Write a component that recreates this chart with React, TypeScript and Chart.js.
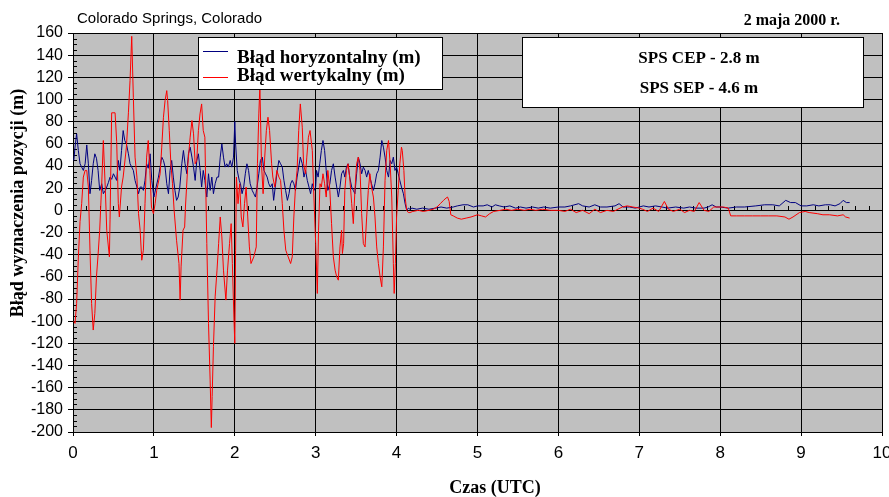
import { useEffect, useRef } from "react";
import { Chart, registerables } from "chart.js";

Chart.register(...registerables);

// [time (h UTC), error (m)]
const horizontalError: [number, number][] = [
  [0.01, 45], [0.025, 57], [0.045, 69], [0.066, 54], [0.087, 42], [0.107, 39], [0.128, 36], [0.15, 42],
  [0.17, 59], [0.19, 42], [0.21, 15], [0.23, 27], [0.25, 42], [0.27, 51], [0.29, 47], [0.31, 36],
  [0.33, 18], [0.355, 24], [0.375, 15], [0.4, 18], [0.417, 21], [0.437, 25], [0.458, 30], [0.478, 28],
  [0.5, 33], [0.52, 30], [0.54, 27], [0.56, 45], [0.58, 36], [0.6, 54], [0.62, 72], [0.64, 63],
  [0.66, 60], [0.685, 51], [0.705, 42], [0.726, 39], [0.746, 36], [0.767, 27], [0.79, 21], [0.81, 15],
  [0.83, 21], [0.85, 21], [0.87, 18], [0.89, 27], [0.91, 42], [0.93, 38], [0.953, 51], [0.974, 27],
  [1.0, 12], [1.027, 21], [1.056, 30], [1.077, 39], [1.097, 48], [1.118, 45], [1.138, 39], [1.159, 24],
  [1.18, 15], [1.2, 36], [1.22, 45], [1.24, 30], [1.26, 18], [1.28, 9], [1.3, 12], [1.32, 21],
  [1.345, 42], [1.365, 54], [1.385, 42], [1.407, 33], [1.427, 51], [1.448, 57], [1.47, 48], [1.49, 39],
  [1.51, 27], [1.53, 45], [1.55, 51], [1.572, 36], [1.59, 21], [1.61, 36], [1.63, 27], [1.654, 12],
  [1.675, 33], [1.695, 18], [1.716, 30], [1.736, 15], [1.757, 24], [1.78, 30], [1.8, 30], [1.82, 48],
  [1.84, 60], [1.86, 48], [1.88, 39], [1.9, 42], [1.92, 39], [1.943, 45], [1.963, 39], [1.984, 48],
  [2.0, 80], [2.01, 60], [2.03, 36], [2.055, 27], [2.07, 24], [2.09, 15], [2.11, 21], [2.13, 33],
  [2.15, 42], [2.17, 36], [2.19, 24], [2.215, 18], [2.235, 15], [2.255, 12], [2.275, 21], [2.297, 33],
  [2.317, 45], [2.34, 48], [2.36, 36], [2.38, 33], [2.4, 30], [2.42, 24], [2.44, 21], [2.463, 24],
  [2.48, 9], [2.5, 21], [2.525, 36], [2.545, 45], [2.566, 42], [2.587, 39], [2.607, 27], [2.628, 18],
  [2.65, 9], [2.67, 15], [2.69, 24], [2.71, 27], [2.73, 24], [2.75, 18], [2.77, 30], [2.79, 39],
  [2.81, 48], [2.834, 42], [2.855, 30], [2.875, 36], [2.896, 27], [2.917, 21], [2.937, 15], [2.958, 24],
  [2.98, 18], [3.0, 21], [3.01, 36], [3.03, 30], [3.05, 42], [3.07, 54], [3.09, 63], [3.11, 54],
  [3.13, 36], [3.15, 18], [3.175, 24], [3.196, 36], [3.218, 42], [3.24, 30], [3.26, 21], [3.28, 12],
  [3.3, 21], [3.32, 33], [3.342, 36], [3.36, 30], [3.38, 39], [3.4, 42], [3.42, 30], [3.445, 21],
  [3.465, 18], [3.485, 15], [3.506, 33], [3.527, 48], [3.548, 42], [3.568, 33], [3.589, 39], [3.61, 36],
  [3.63, 30], [3.65, 36], [3.67, 30], [3.69, 24], [3.713, 18], [3.733, 24], [3.754, 33], [3.775, 36],
  [3.796, 48], [3.817, 63], [3.837, 57], [3.857, 48], [3.878, 36], [3.9, 30], [3.92, 45], [3.94, 42],
  [3.96, 48], [3.98, 36], [4.0, 39], [4.02, 33], [4.04, 27], [4.06, 21], [4.084, 15], [4.105, 6],
  [4.125, 0], [4.145, 2], [4.165, 1], [4.19, 2], [4.25, 1], [4.32, 2], [4.4, 1], [4.48, 2],
  [4.55, 3], [4.62, 2], [4.7, 3], [4.75, 4], [4.82, 5], [4.88, 5], [4.95, 3], [5.0, 4],
  [5.07, 4], [5.12, 5], [5.18, 3], [5.22, 5], [5.27, 4], [5.33, 3], [5.4, 4], [5.47, 2],
  [5.53, 3], [5.6, 2], [5.68, 3], [5.75, 2], [5.82, 3], [5.9, 2], [6.0, 3], [6.08, 3],
  [6.15, 4], [6.25, 6], [6.3, 4], [6.38, 3], [6.45, 5], [6.52, 3], [6.6, 3], [6.7, 4],
  [6.75, 6], [6.8, 3], [6.88, 3], [6.95, 2], [7.0, 3], [7.05, 4], [7.12, 3], [7.2, 4],
  [7.28, 3], [7.35, 2], [7.45, 3], [7.55, 2], [7.62, 3], [7.7, 2], [7.8, 2], [7.85, 3],
  [7.9, 5], [7.95, 3], [8.0, 3], [8.1, 2], [8.2, 3], [8.3, 3], [8.44, 4], [8.55, 5],
  [8.65, 5], [8.73, 4], [8.81, 9], [8.87, 7], [8.93, 7], [9.0, 4], [9.07, 4], [9.15, 5],
  [9.22, 4], [9.3, 5], [9.36, 5], [9.42, 4], [9.48, 6], [9.52, 9], [9.56, 7], [9.6, 7],
];

const verticalError: [number, number][] = [
  [0.01, -100], [0.025, -102], [0.045, -84], [0.066, -43], [0.087, -10], [0.107, 6], [0.128, 30], [0.15, 36],
  [0.17, 36], [0.19, 21], [0.21, -36], [0.23, -84], [0.25, -108], [0.27, -93], [0.29, -60], [0.31, -40],
  [0.33, -18], [0.355, 24], [0.375, 63], [0.4, 18], [0.417, -18], [0.45, -42], [0.458, -8], [0.478, 88],
  [0.52, 88], [0.54, 62], [0.56, 6], [0.573, -6], [0.6, 21], [0.62, 30], [0.66, 57], [0.685, 88],
  [0.705, 117], [0.726, 157], [0.746, 102], [0.767, 48], [0.79, 30], [0.81, -3], [0.83, -18], [0.85, -45],
  [0.87, -36], [0.89, 6], [0.91, 48], [0.93, 63], [0.95, 36], [0.97, 3], [0.994, -3], [1.015, 6],
  [1.035, 18], [1.077, 33], [1.097, 57], [1.118, 84], [1.138, 99], [1.159, 108], [1.17, 99], [1.19, 72],
  [1.21, 42], [1.23, 24], [1.25, 0], [1.28, -27], [1.31, -48], [1.324, -81], [1.336, -51], [1.36, -18],
  [1.38, -15], [1.39, 3], [1.42, 42], [1.448, 66], [1.47, 81], [1.49, 69], [1.51, 42], [1.53, 45],
  [1.55, 72], [1.57, 87], [1.59, 96], [1.61, 72], [1.63, 66], [1.654, -30], [1.675, -102], [1.695, -153],
  [1.71, -196], [1.72, -168], [1.736, -123], [1.757, -78], [1.78, -54], [1.8, -30], [1.82, -6], [1.84, -24],
  [1.86, -54], [1.89, -81], [1.91, -54], [1.935, -30], [1.955, -12], [1.97, -48], [1.99, -99], [2.0, -120],
  [2.01, -36], [2.02, 30], [2.04, 6], [2.06, 24], [2.08, -6], [2.1, -15], [2.12, 6], [2.14, 21],
  [2.16, -6], [2.18, -33], [2.2, -48], [2.235, -42], [2.265, -33], [2.28, 42], [2.297, 87], [2.31, 112],
  [2.33, 42], [2.35, 15], [2.37, 48], [2.39, 72], [2.41, 84], [2.43, 72], [2.455, 42], [2.47, 30],
  [2.495, 21], [2.52, 36], [2.545, 30], [2.566, 27], [2.587, 6], [2.607, -18], [2.63, -36], [2.66, -42],
  [2.69, -48], [2.71, -42], [2.73, -6], [2.75, 21], [2.77, 36], [2.79, 72], [2.81, 96], [2.834, 75],
  [2.85, 42], [2.875, 33], [2.89, 48], [2.91, 66], [2.93, 72], [2.958, 54], [2.978, 12], [3.0, -30],
  [3.02, -75], [3.035, -18], [3.053, 24], [3.07, 21], [3.09, 33], [3.11, 24], [3.13, 12], [3.15, 36],
  [3.175, 18], [3.196, -12], [3.218, -42], [3.24, -54], [3.26, -60], [3.28, -63], [3.3, -33], [3.32, -18],
  [3.33, -39], [3.345, -30], [3.36, 18], [3.38, 36], [3.4, 42], [3.42, 30], [3.445, 6], [3.465, -12],
  [3.485, 18], [3.506, 42], [3.527, 48], [3.548, 36], [3.568, -3], [3.589, -30], [3.61, -33], [3.63, -6],
  [3.65, 18], [3.67, 33], [3.69, 21], [3.713, 12], [3.733, -6], [3.754, -33], [3.775, -48], [3.796, -60],
  [3.817, -69], [3.837, -33], [3.857, 27], [3.878, 54], [3.9, 63], [3.92, 42], [3.94, 12], [3.96, -48],
  [3.97, -75], [3.985, -48], [4.0, -6], [4.02, 18], [4.04, 42], [4.06, 57], [4.07, 54], [4.09, 36],
  [4.105, 12], [4.125, 0], [4.145, -2], [4.165, -2], [4.2, -1], [4.27, 0], [4.33, -1], [4.4, 0],
  [4.45, 1], [4.5, 3], [4.54, 6], [4.58, 9], [4.61, 11], [4.63, 12], [4.65, 8], [4.67, -4],
  [4.7, -5], [4.75, -7], [4.8, -8], [4.86, -7], [4.92, -6], [5.0, -4], [5.05, -5], [5.1, -6],
  [5.15, -3], [5.2, -1], [5.28, 0], [5.35, 1], [5.42, 0], [5.5, 1], [5.58, 0], [5.65, 1],
  [5.72, 0], [5.8, 1], [5.9, 0], [6.0, 0], [6.08, -1], [6.15, 1], [6.22, -2], [6.3, 0],
  [6.38, -3], [6.45, 1], [6.52, -2], [6.6, 0], [6.68, -1], [6.79, 3], [6.85, 4], [6.92, 3],
  [7.0, 2], [7.04, 1], [7.1, -1], [7.17, 2], [7.24, -1], [7.31, 8], [7.36, 1], [7.42, -1],
  [7.5, 1], [7.56, -2], [7.62, 0], [7.68, -1], [7.74, 7], [7.8, 0], [7.86, -1], [7.92, 3],
  [7.97, 3], [8.04, 3], [8.1, 2], [8.13, -5], [8.2, -5], [8.3, -5], [8.4, -5], [8.5, -5],
  [8.6, -5], [8.7, -5], [8.8, -6], [8.85, -8], [8.9, -6], [8.98, -2], [9.05, -1], [9.1, -2],
  [9.2, -3], [9.27, -4], [9.35, -4], [9.45, -5], [9.52, -4], [9.55, -6], [9.6, -7],
];

const seriesLabels = ["Błąd horyzontalny (m)", "Błąd wertykalny (m)"];
const seriesColors = ["#000080", "#ff0000"];
const chartTitle = "Colorado Springs, Colorado";
const dateLabel = "2 maja 2000 r.";
const statLines = ["SPS CEP - 2.8 m", "SPS SEP - 4.6 m"];
const xAxisTitle = "Czas (UTC)";
const yAxisTitle = "Błąd wyznaczenia pozycji (m)";
const xRange = [0, 10];
const yRange = [-200, 160];

const SERIF = "'Liberation Serif', 'Times New Roman', serif";
const SANS = "'Liberation Sans', Arial, sans-serif";
const NARROW = "'Liberation Sans Narrow', 'Liberation Sans', Arial, sans-serif";

const decorations = {
  id: "decorations",
  beforeDraw(chart: any) {
    const { ctx, chartArea } = chart;
    const { left, top, right, bottom } = chartArea;
    ctx.save();
    ctx.fillStyle = "#c0c0c0";
    ctx.fillRect(left, top, right - left, bottom - top);
    ctx.restore();
  },
  beforeDatasetsDraw(chart: any) {
    const { ctx, chartArea, scales } = chart;
    const xs = scales.x;
    const ys = scales.y;
    ctx.save();
    ctx.strokeStyle = "#000";
    ctx.lineWidth = 1;
    ctx.beginPath();
    for (let v = yRange[0]; v <= yRange[1]; v += 5) {
      if (v % 20 === 0) continue;
      const py = Math.round(ys.getPixelForValue(v)) + 0.5;
      ctx.moveTo(chartArea.left, py);
      ctx.lineTo(chartArea.left + 4, py);
    }
    const y0 = Math.round(ys.getPixelForValue(0));
    for (let i = 1; i < 60; i++) {
      if (i % 6 === 0) continue;
      const px = Math.round(xs.getPixelForValue(i / 6)) + 0.5;
      ctx.moveTo(px, y0);
      ctx.lineTo(px, y0 - 4);
    }
    ctx.stroke();
    ctx.restore();
  },
  afterDraw(chart: any) {
    const { ctx } = chart;
    ctx.save();
    ctx.fillStyle = "#000";
    ctx.textBaseline = "alphabetic";

    ctx.font = `15px ${SANS}`;
    ctx.textAlign = "left";
    ctx.fillText(chartTitle, 77, 23);

    ctx.font = `bold 16px ${SERIF}`;
    ctx.textAlign = "right";
    ctx.fillText(dateLabel, 840, 25);

    // legend box
    ctx.fillStyle = "#fff";
    ctx.fillRect(198, 37, 244, 52);
    ctx.strokeStyle = "#000";
    ctx.lineWidth = 1;
    ctx.strokeRect(198.5, 37.5, 244, 52);
    const legendY = [51, 77];
    const textY = [63, 81];
    for (let i = 0; i < 2; i++) {
      ctx.strokeStyle = seriesColors[i];
      ctx.beginPath();
      ctx.moveTo(203, legendY[i] + 0.5);
      ctx.lineTo(228, legendY[i] + 0.5);
      ctx.stroke();
      ctx.fillStyle = "#000";
      ctx.font = `bold 19px ${SERIF}`;
      ctx.textAlign = "left";
      ctx.fillText(seriesLabels[i], 237, textY[i]);
    }

    // stats box
    ctx.fillStyle = "#fff";
    ctx.fillRect(522, 37, 341, 70);
    ctx.strokeStyle = "#000";
    ctx.strokeRect(522.5, 37.5, 341, 70);
    ctx.fillStyle = "#000";
    ctx.font = `bold 17px ${SERIF}`;
    ctx.textAlign = "center";
    ctx.fillText(statLines[0], 699, 63);
    ctx.fillText(statLines[1], 699, 93);

    // axis titles
    ctx.font = `bold 18px ${SERIF}`;
    ctx.fillText(xAxisTitle, 495, 493);

    ctx.translate(23, 203);
    ctx.rotate(-Math.PI / 2);
    ctx.font = `bold 18px ${SERIF}`;
    ctx.textAlign = "center";
    ctx.fillText(yAxisTitle, 0, 0);
    ctx.restore();
  },
};

export default function App() {
  const ref = useRef<HTMLCanvasElement | null>(null);
  useEffect(() => {
    if (!ref.current) return;
    const toPoints = (arr: [number, number][]) => arr.map(([x, y]) => ({ x, y }));
    const chart = new Chart(ref.current, {
      type: "line",
      data: {
        datasets: [
          {
            label: seriesLabels[0],
            data: toPoints(horizontalError),
            borderColor: seriesColors[0],
            borderWidth: 1,
            pointRadius: 0,
            tension: 0,
            order: 2,
          },
          {
            label: seriesLabels[1],
            data: toPoints(verticalError),
            borderColor: seriesColors[1],
            borderWidth: 1,
            pointRadius: 0,
            tension: 0,
            order: 1,
          },
        ],
      },
      options: {
        animation: false,
        responsive: true,
        maintainAspectRatio: false,
        devicePixelRatio: 1,
        layout: { padding: { left: 0, top: 33, right: 7, bottom: 0 } },
        plugins: { legend: { display: false }, tooltip: { enabled: false } },
        scales: {
          x: {
            type: "linear",
            min: xRange[0],
            max: xRange[1],
            afterFit: (s: any) => {
              s.height = 65;
              s.paddingLeft = 0;
              s.paddingRight = 0;
            },
            ticks: {
              stepSize: 1,
              autoSkip: false,
              color: "#000",
              padding: 7,
              maxRotation: 0,
              font: { family: NARROW, size: 17 },
            },
            grid: { color: "#000", lineWidth: 1, tickLength: 4, drawTicks: true },
            border: { color: "#000" },
          },
          y: {
            type: "linear",
            min: yRange[0],
            max: yRange[1],
            afterFit: (s: any) => {
              s.width = 73;
              s.paddingTop = 0;
              s.paddingBottom = 0;
            },
            ticks: {
              stepSize: 20,
              autoSkip: false,
              color: "#000",
              padding: 5,
              font: { family: NARROW, size: 16 },
            },
            grid: { color: "#000", lineWidth: 1, tickLength: 5, drawTicks: true },
            border: { color: "#000" },
          },
        },
      },
      plugins: [decorations],
    });
    return () => chart.destroy();
  }, []);
  return (
    <div style={{ position: "absolute", left: 0, top: 0, width: 889, height: 497, background: "#fff" }}>
      <canvas ref={ref} />
    </div>
  );
}
